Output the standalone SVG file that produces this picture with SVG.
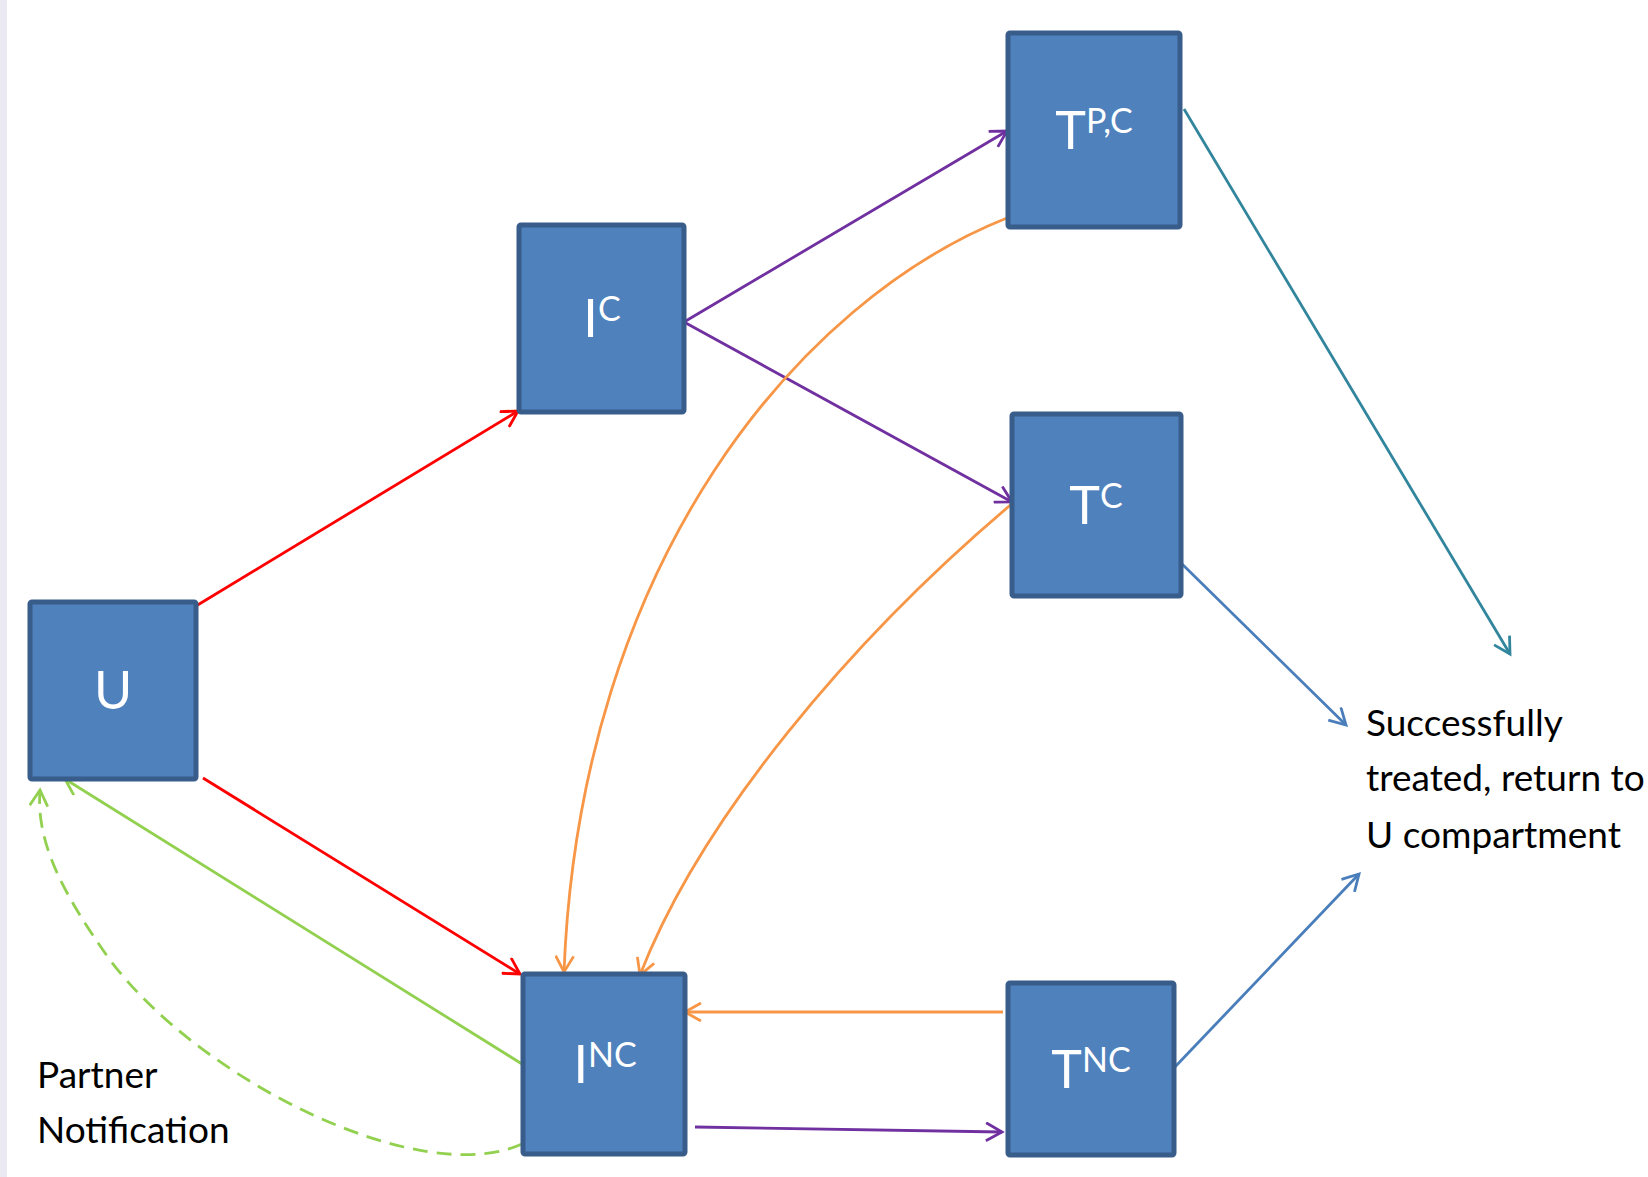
<svg xmlns="http://www.w3.org/2000/svg" width="1648" height="1177" viewBox="0 0 1648 1177">
<style>
.box{fill:#4f81bd;stroke:#385d8a;stroke-width:5}
.lbl{fill:#ffffff;font-family:Lato,"Liberation Sans",sans-serif;font-size:52px;text-anchor:middle}
.sup{font-size:34px}
.note{fill:#000000;font-family:Lato,"Liberation Sans",sans-serif;font-size:37px}
.c{fill:none;stroke-width:2.8}
</style>
<defs>
<marker id="aRed" viewBox="0 0 20 20" refX="17" refY="10" markerWidth="20" markerHeight="20" markerUnits="userSpaceOnUse" orient="auto"><path d="M1,1 L17,10 L1,19" fill="none" stroke="#ff0000" stroke-width="2.8"/></marker>
<marker id="aGreen" viewBox="0 0 20 20" refX="17" refY="10" markerWidth="20" markerHeight="20" markerUnits="userSpaceOnUse" orient="auto"><path d="M1,1 L17,10 L1,19" fill="none" stroke="#92d050" stroke-width="2.8"/></marker>
<marker id="aPurple" viewBox="0 0 20 20" refX="17" refY="10" markerWidth="20" markerHeight="20" markerUnits="userSpaceOnUse" orient="auto"><path d="M1,1 L17,10 L1,19" fill="none" stroke="#7030a0" stroke-width="2.8"/></marker>
<marker id="aOrange" viewBox="0 0 20 20" refX="17" refY="10" markerWidth="20" markerHeight="20" markerUnits="userSpaceOnUse" orient="auto"><path d="M1,1 L17,10 L1,19" fill="none" stroke="#f79646" stroke-width="2.8"/></marker>
<marker id="aTeal" viewBox="0 0 20 20" refX="17" refY="10" markerWidth="20" markerHeight="20" markerUnits="userSpaceOnUse" orient="auto"><path d="M1,1 L17,10 L1,19" fill="none" stroke="#31859c" stroke-width="2.8"/></marker>
<marker id="aBlue" viewBox="0 0 20 20" refX="17" refY="10" markerWidth="20" markerHeight="20" markerUnits="userSpaceOnUse" orient="auto"><path d="M1,1 L17,10 L1,19" fill="none" stroke="#4a7ebb" stroke-width="2.8"/></marker>
</defs>
<rect x="0" y="0" width="1648" height="1177" fill="#ffffff"/>
<rect x="0" y="0" width="7" height="1177" fill="#ebe9f2"/>

<g id="connectors">
<line class="c" x1="196" y1="606" x2="518" y2="411" stroke="#ff0000" marker-end="url(#aRed)"/>
<line class="c" x1="203" y1="778" x2="520" y2="974" stroke="#ff0000" marker-end="url(#aRed)"/>
<line class="c" x1="522" y1="1064" x2="65" y2="779" stroke="#92d050" marker-end="url(#aGreen)"/>
<path class="c" d="M522,1144 C420,1190 200,1080 110,960 C60,890 36,840 40,790" stroke="#92d050" stroke-dasharray="15,9" marker-end="url(#aGreen)"/>
<line class="c" x1="684" y1="322" x2="1007" y2="131" stroke="#7030a0" marker-end="url(#aPurple)"/>
<line class="c" x1="684" y1="322" x2="1012" y2="502" stroke="#7030a0" marker-end="url(#aPurple)"/>
<line class="c" x1="695" y1="1127" x2="1002" y2="1132" stroke="#7030a0" marker-end="url(#aPurple)"/>
<line class="c" x1="1003" y1="1012" x2="685" y2="1012" stroke="#f79646" marker-end="url(#aOrange)"/>
<path class="c" d="M1007,218 C800,300 580,560 564,972" stroke="#f79646" marker-end="url(#aOrange)"/>
<path class="c" d="M1014,502 C850,640 700,820 640,975" stroke="#f79646" marker-end="url(#aOrange)"/>
<line class="c" x1="1184" y1="109" x2="1510" y2="654" stroke="#31859c" marker-end="url(#aTeal)"/>
<line class="c" x1="1180" y1="562" x2="1346" y2="725" stroke="#4a7ebb" marker-end="url(#aBlue)"/>
<line class="c" x1="1173" y1="1069" x2="1359" y2="874" stroke="#4a7ebb" marker-end="url(#aBlue)"/>
</g>

<g id="node-U">
<rect class="box" x="30" y="602" width="166" height="177" rx="2"/>
<text class="lbl" x="113" y="709">U</text>
</g>
<g id="node-IC">
<rect class="box" x="519" y="225" width="165" height="187" rx="2"/>
<text class="lbl" x="602" y="337">I<tspan class="sup" dy="-16">C</tspan></text>
</g>
<g id="node-TPC">
<rect class="box" x="1008" y="33" width="172" height="194" rx="2"/>
<text class="lbl" x="1094" y="149">T<tspan class="sup" dy="-16">P,C</tspan></text>
</g>
<g id="node-TC">
<rect class="box" x="1012" y="414" width="169" height="182" rx="2"/>
<text class="lbl" x="1096" y="524">T<tspan class="sup" dy="-16">C</tspan></text>
</g>
<g id="node-INC">
<rect class="box" x="523" y="974" width="162" height="180" rx="2"/>
<text class="lbl" x="605" y="1083">I<tspan class="sup" dy="-16">NC</tspan></text>
</g>
<g id="node-TNC">
<rect class="box" x="1008" y="983" width="166" height="172" rx="2"/>
<text class="lbl" x="1091" y="1088">T<tspan class="sup" dy="-16">NC</tspan></text>
</g>

<g id="label-success">
<text class="note" x="1366" y="736">Successfully</text>
<text class="note" x="1366" y="791">treated, return to</text>
<text class="note" x="1366" y="848">U compartment</text>
</g>
<g id="label-partner">
<text class="note" x="37" y="1088">Partner</text>
<text class="note" x="37" y="1143">Notification</text>
</g>
</svg>
